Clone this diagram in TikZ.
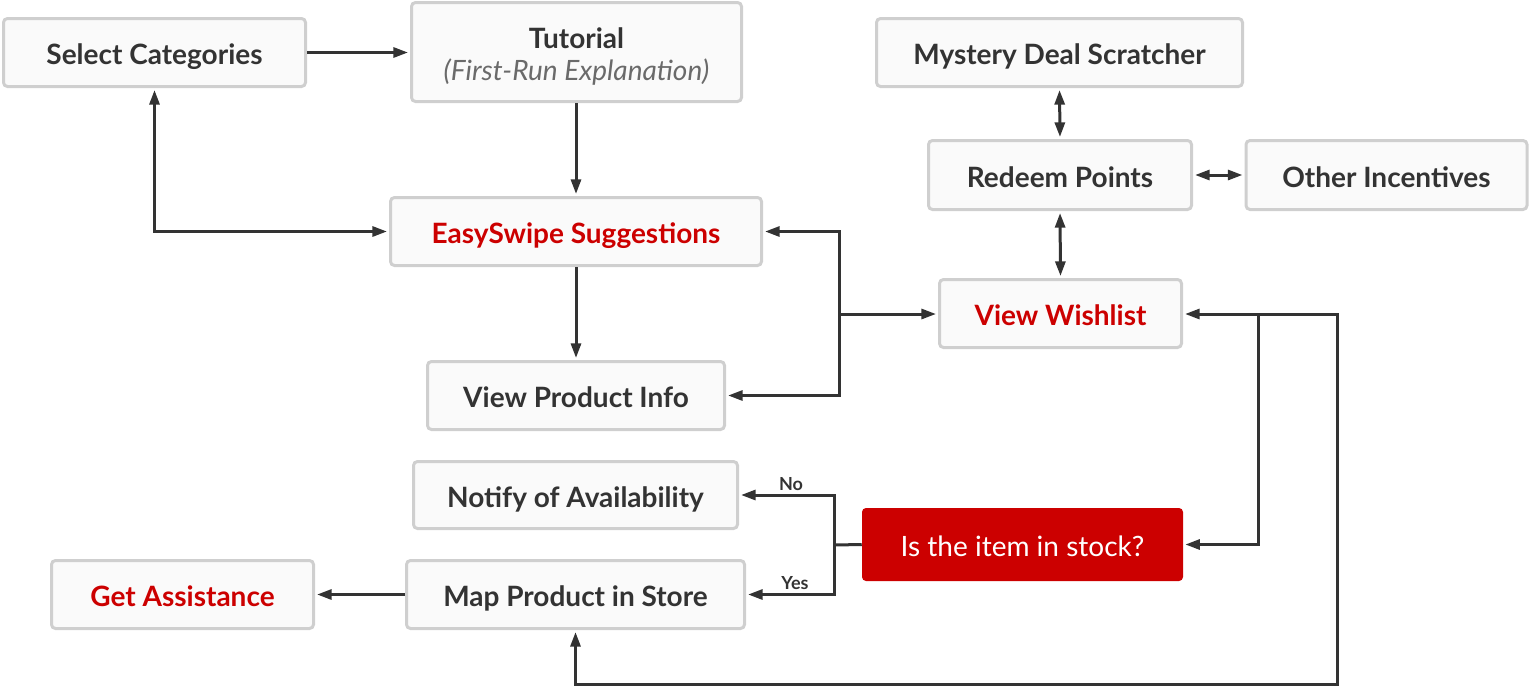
\documentclass[tikz,border=0pt]{standalone}
\usepackage{fontspec}
\setmainfont{Lato}
\usetikzlibrary{arrows.meta}
\definecolor{txt}{HTML}{333333}
\definecolor{bord}{HTML}{CFCFCF}
\definecolor{boxfill}{HTML}{FAFAFA}
\definecolor{hot}{HTML}{CC0000}
\definecolor{sub}{HTML}{6A6A6A}
\tikzset{
  box/.style={draw=bord, fill=boxfill, line width=2.25pt, rounded corners=3pt, inner sep=0pt,
    text=txt, font=\fontsize{21}{24}\selectfont\bfseries, text height=19pt, text depth=1pt},
  redtext/.style={text=hot},
  stockbox/.style={fill=hot, rounded corners=3pt, inner sep=0pt, text=white,
    font=\fontsize{21}{24}\selectfont, text height=19pt, text depth=1pt},
  tuttext/.style={anchor=base, inner sep=0pt, text=txt, font=\fontsize{21}{24}\selectfont\bfseries},
  tutsub/.style={anchor=base, inner sep=0pt, text=sub, font=\fontsize{21}{24}\selectfont\itshape},
  conn/.style={draw=txt, line width=2.25pt, -{Triangle[length=11pt,width=7.5pt]}, shorten >=1.5pt},
  dconn/.style={draw=txt, line width=2.25pt, {Triangle[length=11pt,width=7.5pt]}-{Triangle[length=11pt,width=7.5pt]}, shorten >=1.5pt, shorten <=1.5pt},
  plain/.style={draw=txt, line width=2.25pt},
  lbl/.style={text=txt, font=\fontsize{13.5}{15}\selectfont\bfseries, inner sep=0pt}
}
\begin{document}
\begin{tikzpicture}[x=0.75pt,y=-0.75pt]
\path[use as bounding box] (0,0) rectangle (1530,686);
% nodes
\node[box, minimum width=226.5pt, minimum height=51pt] (sel) at (154.5,52.5) {Select Categories};
\node[box, minimum width=247.5pt, minimum height=74.25pt, text height=0pt, text depth=0pt] (tut) at (576.5,52) {};
\node[tuttext] (tutt) at (576.5,48) {Tutorial};
\node[tutsub] (tuts) at (576.5,80) {(First-Run Explanation)};
\node[box, redtext, minimum width=278.25pt, minimum height=51pt] (easy) at (576,231.5) {EasySwipe Suggestions};
\node[box, minimum width=222.75pt, minimum height=51pt] (vpi) at (576,395.5) {View Product Info};
\node[box, minimum width=243pt, minimum height=50.25pt] (notify) at (575.5,495) {Notify of Availability};
\node[box, minimum width=253.5pt, minimum height=51pt] (map) at (575.5,594.5) {Map Product in Store};
\node[box, redtext, minimum width=196.5pt, minimum height=51pt] (assist) at (182.5,594.5) {Get Assistance};
\node[box, minimum width=274.5pt, minimum height=51pt] (myst) at (1059.5,52.5) {Mystery Deal Scratcher};
\node[box, minimum width=197.25pt, minimum height=51.75pt] (redeem) at (1060,175) {Redeem Points};
\node[box, minimum width=210.75pt, minimum height=51.75pt] (other) at (1386.5,175) {Other Incentives};
\node[box, redtext, minimum width=181.5pt, minimum height=51pt] (wish) at (1060.5,313.5) {View Wishlist};
\node[stockbox, minimum width=240.75pt, minimum height=54.75pt] (stock) at (1022.5,544.5) {Is the item in stock?};
\node[lbl] (no) at (791,484) {No};
\node[lbl] (yes) at (795,583) {Yes};
% junction coordinates
\coordinate (k) at (839,314);
\coordinate (j) at (834,545);
\coordinate (b1) at (1258,314);
\coordinate (b2) at (1337,314);
\coordinate (b3) at (1337,684);
% connectors
\draw[conn] (sel.east) -- (tut.west |- sel.east);
\draw[conn] (tut.south -| easy.north) -- (easy.north);
\draw[dconn] (sel.south) |- (easy.west);
\draw[conn] (easy.south) -- (vpi.north);
\draw[conn] (k) -- (wish.west |- k);
\draw[conn] (k) |- (easy.east);
\draw[conn] (k) |- (vpi.east);
\draw[dconn] (myst.south) -- (redeem.north);
\draw[dconn] (redeem.east) -- (other.west);
\draw[dconn] (redeem.south) -- (wish.north);
\draw[conn] (b1) -- (wish.east |- b1);
\draw[conn] (b1) |- (stock.east);
\draw[conn] (b1) -- (b2) -- (b3) -| (map.south);
\draw[plain] (stock.west) -- (j);
\draw[conn] (j) |- (notify.east);
\draw[conn] (j) |- (map.east);
\draw[conn] (map.west) -- (assist.east);
\end{tikzpicture}
\end{document}
